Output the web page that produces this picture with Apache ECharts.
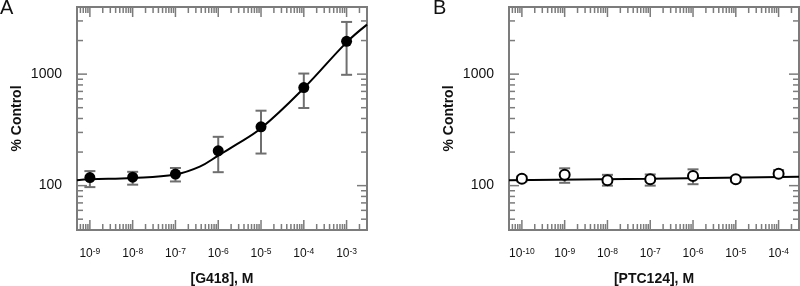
<!DOCTYPE html>
<html>
<head>
<meta charset="utf-8">
<script src="https://cdn.jsdelivr.net/npm/echarts@6/dist/echarts.min.js"></script>
<style>
  html, body { margin: 0; padding: 0; background: #fff; }
  #chart { width: 800px; height: 286px; }
</style>
</head>
<body>
<div id="chart"></div>
<script>
// panel A: G418
const concA = [1e-9, 1e-8, 1e-7, 1e-6, 1e-5, 1e-4, 1e-3]
const meanA = [118, 119, 127, 205, 337, 757, 1967]
const lowA = [97, 102, 109, 132, 194, 497, 986]
const highA = [135, 133, 144, 274, 470, 1012, 2938]
const fitConcA = [5e-10, 1e-9, 1e-8, 1e-7, 3.7e-7, 1e-6, 2.2e-6, 1e-5, 1e-4, 1e-3, 3e-3]
const fitA = [112, 114, 117, 126, 148, 186, 224, 327, 748, 1928, 2780]

// panel B: PTC124
const concB = [1e-10, 1e-9, 1e-8, 1e-7, 1e-6, 1e-5, 1e-4]
const meanB = [115, 125, 112, 114, 122, 114, 128]
const lowB = [109, 106, 100, 100, 103, 109, 120]
const highB = [121, 143, 125, 126, 140, 120, 138]
const fitConcB = [5e-11, 1e-7, 3e-4]
const fitB = [112, 115, 120]

// axis ranges and tick labels
const xRangeA = [5e-10, 3e-3]
const xRangeB = [5e-11, 3e-4]
const yRange = [40, 4000]
const xDecadesA = [-9, -8, -7, -6, -5, -4, -3]
const xDecadesB = [-10, -9, -8, -7, -6, -5, -4]
const yTickLabels = ['100', '1000']

const FONT = 'Liberation Sans, Arial, Helvetica, sans-serif'
const AXIS_GRAY = '#7c7c7c'
const BAR_GRAY = '#6f6f6f'

// tick positions (decades are major, 2..9 multiples are minor)
function logTicks(range) {
  const out = []
  const lo = Math.floor(Math.log10(range[0]))
  const hi = Math.ceil(Math.log10(range[1]))
  for (let n = lo; n <= hi; n++) {
    for (let k = 1; k <= 9; k++) {
      const v = k * Math.pow(10, n)
      if (v >= range[0] * 0.999 && v <= range[1] * 1.001) out.push([v, k === 1 ? 1 : 0])
    }
  }
  return out
}

function isDecade(v, list) {
  const l = Math.log10(v)
  const n = Math.round(l)
  return Math.abs(l - n) < 1e-6 && list.indexOf(n) >= 0 ? n : null
}

function tickSeries(idx, xRange) {
  const items = []
  logTicks(xRange).forEach(t => items.push([t[0], yRange[0], t[1], 0]))
  logTicks(yRange).forEach(t => items.push([xRange[0], t[0], t[1], 1]))
  return {
    type: 'custom',
    xAxisIndex: idx,
    yAxisIndex: idx,
    silent: true,
    z: 1,
    data: items,
    renderItem(params, api) {
      const major = api.value(2)
      const len = major ? 10 : 6
      const style = { stroke: AXIS_GRAY, lineWidth: 1.5 }
      let a, b, lines
      if (api.value(3) === 0) {
        a = api.coord([api.value(0), yRange[0]])
        b = api.coord([api.value(0), yRange[1]])
        lines = [[a[0], a[1], a[0], a[1] - len], [b[0], b[1], b[0], b[1] + len]]
      } else {
        a = api.coord([xRange[0], api.value(1)])
        b = api.coord([xRange[1], api.value(1)])
        lines = [[a[0], a[1], a[0] + len, a[1]], [b[0], b[1], b[0] - len, b[1]]]
      }
      return {
        type: 'group',
        children: lines.map(l => ({
          type: 'line',
          shape: { x1: l[0], y1: l[1], x2: l[2], y2: l[3] },
          style: style
        }))
      }
    }
  }
}

function errorSeries(idx, conc, low, high) {
  return {
    type: 'custom',
    xAxisIndex: idx,
    yAxisIndex: idx,
    silent: true,
    z: 2,
    data: conc.map((c, i) => [c, low[i], high[i]]),
    renderItem(params, api) {
      const lo = api.coord([api.value(0), api.value(1)])
      const hi = api.coord([api.value(0), api.value(2)])
      const w = 5.5
      const style = { stroke: BAR_GRAY, lineWidth: 2 }
      return {
        type: 'group',
        children: [
          { type: 'line', shape: { x1: lo[0], y1: lo[1], x2: hi[0], y2: hi[1] }, style: style },
          { type: 'line', shape: { x1: lo[0] - w, y1: lo[1], x2: lo[0] + w, y2: lo[1] }, style: style },
          { type: 'line', shape: { x1: hi[0] - w, y1: hi[1], x2: hi[0] + w, y2: hi[1] }, style: style }
        ]
      }
    }
  }
}

function xAxisOf(idx, range, decades, name) {
  return {
    type: 'log',
    logBase: 10,
    gridIndex: idx,
    min: range[0],
    max: range[1],
    name: name,
    nameLocation: 'middle',
    nameGap: 42,
    nameTextStyle: { fontFamily: FONT, fontSize: 14, fontWeight: 'bold', color: '#111' },
    axisLine: { show: false },
    axisTick: { show: false },
    splitLine: { show: false },
    axisLabel: {
      margin: 17,
      fontFamily: FONT,
      fontSize: 12,
      lineHeight: 14,
      color: '#111',
      showMinLabel: true,
      showMaxLabel: true,
      formatter(v) {
        const n = isDecade(v, decades)
        return n === null ? '' : '10{s|' + n + '}'
      },
      rich: {
        s: { fontFamily: FONT, fontSize: 8.5, lineHeight: 9, verticalAlign: 'top', color: '#111' }
      }
    }
  }
}

function yAxisOf(idx) {
  return {
    type: 'log',
    logBase: 10,
    gridIndex: idx,
    min: yRange[0],
    max: yRange[1],
    name: '% Control',
    nameLocation: 'middle',
    nameGap: 53,
    nameTextStyle: { fontFamily: FONT, fontSize: 14, fontWeight: 'bold', color: '#111' },
    axisLine: { show: false },
    axisTick: { show: false },
    splitLine: { show: false },
    axisLabel: {
      margin: 15,
      fontFamily: FONT,
      fontSize: 14,
      color: '#111',
      formatter(v) {
        const s = String(Math.round(v))
        return yTickLabels.indexOf(s) >= 0 ? s : ''
      }
    }
  }
}

const gridStyle = {
  show: true,
  borderColor: AXIS_GRAY,
  borderWidth: 2,
  backgroundColor: 'transparent',
  containLabel: false,
  outerBoundsMode: 'none'
}
const letterStyle = { fontFamily: FONT, fontSize: 20, fontWeight: 'normal', color: '#111' }

const chart = echarts.init(document.getElementById('chart'))
chart.setOption({
  animation: false,
  title: [
    { text: 'A', left: 0, top: -2, padding: 0, textStyle: letterStyle },
    { text: 'B', left: 433, top: -2, padding: 0, textStyle: letterStyle }
  ],
  grid: [
    Object.assign({ left: 77, top: 7, width: 290, height: 223 }, gridStyle),
    Object.assign({ left: 509, top: 7, width: 290, height: 223 }, gridStyle)
  ],
  xAxis: [
    xAxisOf(0, xRangeA, xDecadesA, '[G418], M'),
    xAxisOf(1, xRangeB, xDecadesB, '[PTC124], M')
  ],
  yAxis: [yAxisOf(0), yAxisOf(1)],
  series: [
    tickSeries(0, xRangeA),
    tickSeries(1, xRangeB),
    errorSeries(0, concA, lowA, highA),
    errorSeries(1, concB, lowB, highB),
    {
      type: 'line',
      xAxisIndex: 0,
      yAxisIndex: 0,
      data: fitConcA.map((c, i) => [c, fitA[i]]),
      showSymbol: false,
      smooth: 0.4,
      z: 3,
      lineStyle: { color: '#000', width: 2 }
    },
    {
      type: 'line',
      xAxisIndex: 1,
      yAxisIndex: 1,
      data: fitConcB.map((c, i) => [c, fitB[i]]),
      showSymbol: false,
      z: 3,
      lineStyle: { color: '#000', width: 2 }
    },
    {
      type: 'scatter',
      xAxisIndex: 0,
      yAxisIndex: 0,
      data: concA.map((c, i) => [c, meanA[i]]),
      symbolSize: 11,
      z: 4,
      itemStyle: { color: '#000', opacity: 1 }
    },
    {
      type: 'scatter',
      xAxisIndex: 1,
      yAxisIndex: 1,
      data: concB.map((c, i) => [c, meanB[i]]),
      symbolSize: 10,
      z: 4,
      itemStyle: { color: '#fff', borderColor: '#000', borderWidth: 2, opacity: 1 }
    }
  ]
})
</script>
</body>
</html>
